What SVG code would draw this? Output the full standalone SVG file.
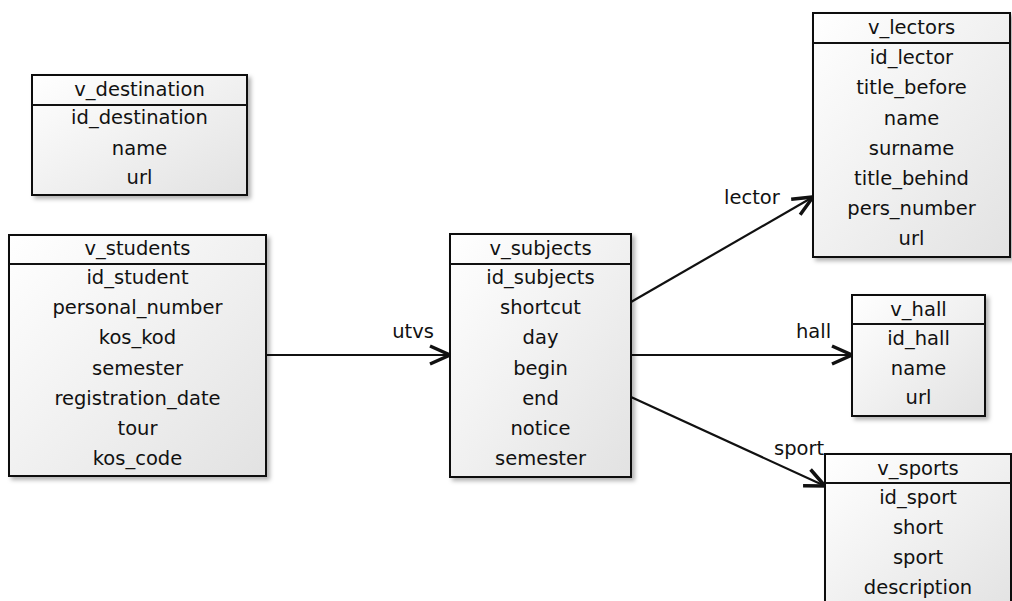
<svg xmlns="http://www.w3.org/2000/svg" width="1012" height="601" viewBox="0 0 1012 601">
  <style>
    text { font-family: "DejaVu Sans", "Liberation Sans", sans-serif; font-size: 19.5px; fill: #111; }
    .field { text-anchor: middle; dominant-baseline: central; }
    .box { fill: url(#boxFill); stroke: #111; stroke-width: 2; }
    .sep { stroke: #111; stroke-width: 2; }
    .link { stroke: #111; stroke-width: 2.2; fill: none; marker-end: url(#open); }
  </style>
  <defs>
    <linearGradient id="boxFill" x1="0" y1="0" x2="1" y2="1">
      <stop offset="0" stop-color="#ffffff"/>
      <stop offset="1" stop-color="#e2e2e2"/>
    </linearGradient>
    <filter id="shadow" x="-10%" y="-10%" width="130%" height="130%">
      <feDropShadow dx="3" dy="3" stdDeviation="2" flood-color="#000" flood-opacity="0.3"/>
    </filter>
    <marker id="open" markerUnits="userSpaceOnUse" markerWidth="26" markerHeight="24" refX="22" refY="11" orient="auto" overflow="visible">
      <path d="M2,2 L22,11 L2,20" fill="none" stroke="#111" stroke-width="3.5" stroke-linejoin="miter"/>
    </marker>
  </defs>

  <rect width="1012" height="601" fill="#fff"/>

  <!-- connectors -->
  <g id="connectors">
    <line class="link" x1="266" y1="355" x2="450" y2="355"/>
    <line class="link" x1="631" y1="302" x2="813" y2="197"/>
    <line class="link" x1="631" y1="355" x2="852" y2="355"/>
    <line class="link" x1="631" y1="397" x2="825" y2="486"/>
    <text x="413" y="338" text-anchor="middle">utvs</text>
    <text x="724" y="204">lector</text>
    <text x="796" y="338">hall</text>
    <text x="774" y="455">sport</text>
  </g>

  <!-- v_destination -->
  <g id="v_destination">
    <rect class="box" x="32" y="75" width="215" height="120" filter="url(#shadow)"/>
    <line class="sep" x1="32" y1="105" x2="247" y2="105"/>
    <text class="field" x="139.5" y="89">v_destination</text>
    <text class="field" x="139.5" y="117">id_destination</text>
    <text class="field" x="139.5" y="148">name</text>
    <text class="field" x="139.5" y="177">url</text>
  </g>

  <!-- v_students -->
  <g id="v_students">
    <rect class="box" x="9" y="235" width="257" height="241" filter="url(#shadow)"/>
    <line class="sep" x1="9" y1="264" x2="266" y2="264"/>
    <text class="field" x="137.5" y="248">v_students</text>
    <text class="field" x="137.5" y="277">id_student</text>
    <text class="field" x="137.5" y="307">personal_number</text>
    <text class="field" x="137.5" y="337">kos_kod</text>
    <text class="field" x="137.5" y="368">semester</text>
    <text class="field" x="137.5" y="398">registration_date</text>
    <text class="field" x="137.5" y="428">tour</text>
    <text class="field" x="137.5" y="458">kos_code</text>
  </g>

  <!-- v_subjects -->
  <g id="v_subjects">
    <rect class="box" x="450" y="234" width="181" height="243" filter="url(#shadow)"/>
    <line class="sep" x1="450" y1="264" x2="631" y2="264"/>
    <text class="field" x="540.5" y="248">v_subjects</text>
    <text class="field" x="540.5" y="277">id_subjects</text>
    <text class="field" x="540.5" y="307">shortcut</text>
    <text class="field" x="540.5" y="337">day</text>
    <text class="field" x="540.5" y="368">begin</text>
    <text class="field" x="540.5" y="398">end</text>
    <text class="field" x="540.5" y="428">notice</text>
    <text class="field" x="540.5" y="458">semester</text>
  </g>

  <!-- v_lectors -->
  <g id="v_lectors">
    <rect class="box" x="813" y="13" width="197" height="244" filter="url(#shadow)"/>
    <line class="sep" x1="813" y1="43" x2="1010" y2="43"/>
    <text class="field" x="911.5" y="27">v_lectors</text>
    <text class="field" x="911.5" y="57">id_lector</text>
    <text class="field" x="911.5" y="87">title_before</text>
    <text class="field" x="911.5" y="118">name</text>
    <text class="field" x="911.5" y="148">surname</text>
    <text class="field" x="911.5" y="178">title_behind</text>
    <text class="field" x="911.5" y="208">pers_number</text>
    <text class="field" x="911.5" y="238">url</text>
  </g>

  <!-- v_hall -->
  <g id="v_hall">
    <rect class="box" x="852" y="295" width="133" height="121" filter="url(#shadow)"/>
    <line class="sep" x1="852" y1="324" x2="985" y2="324"/>
    <text class="field" x="918.5" y="309">v_hall</text>
    <text class="field" x="918.5" y="338">id_hall</text>
    <text class="field" x="918.5" y="368">name</text>
    <text class="field" x="918.5" y="397">url</text>
  </g>

  <!-- v_sports -->
  <g id="v_sports">
    <rect class="box" x="825" y="454" width="186" height="160" filter="url(#shadow)"/>
    <line class="sep" x1="825" y1="483" x2="1011" y2="483"/>
    <text class="field" x="918" y="468">v_sports</text>
    <text class="field" x="918" y="497">id_sport</text>
    <text class="field" x="918" y="527">short</text>
    <text class="field" x="918" y="557">sport</text>
    <text class="field" x="918" y="587">description</text>
  </g>
</svg>
